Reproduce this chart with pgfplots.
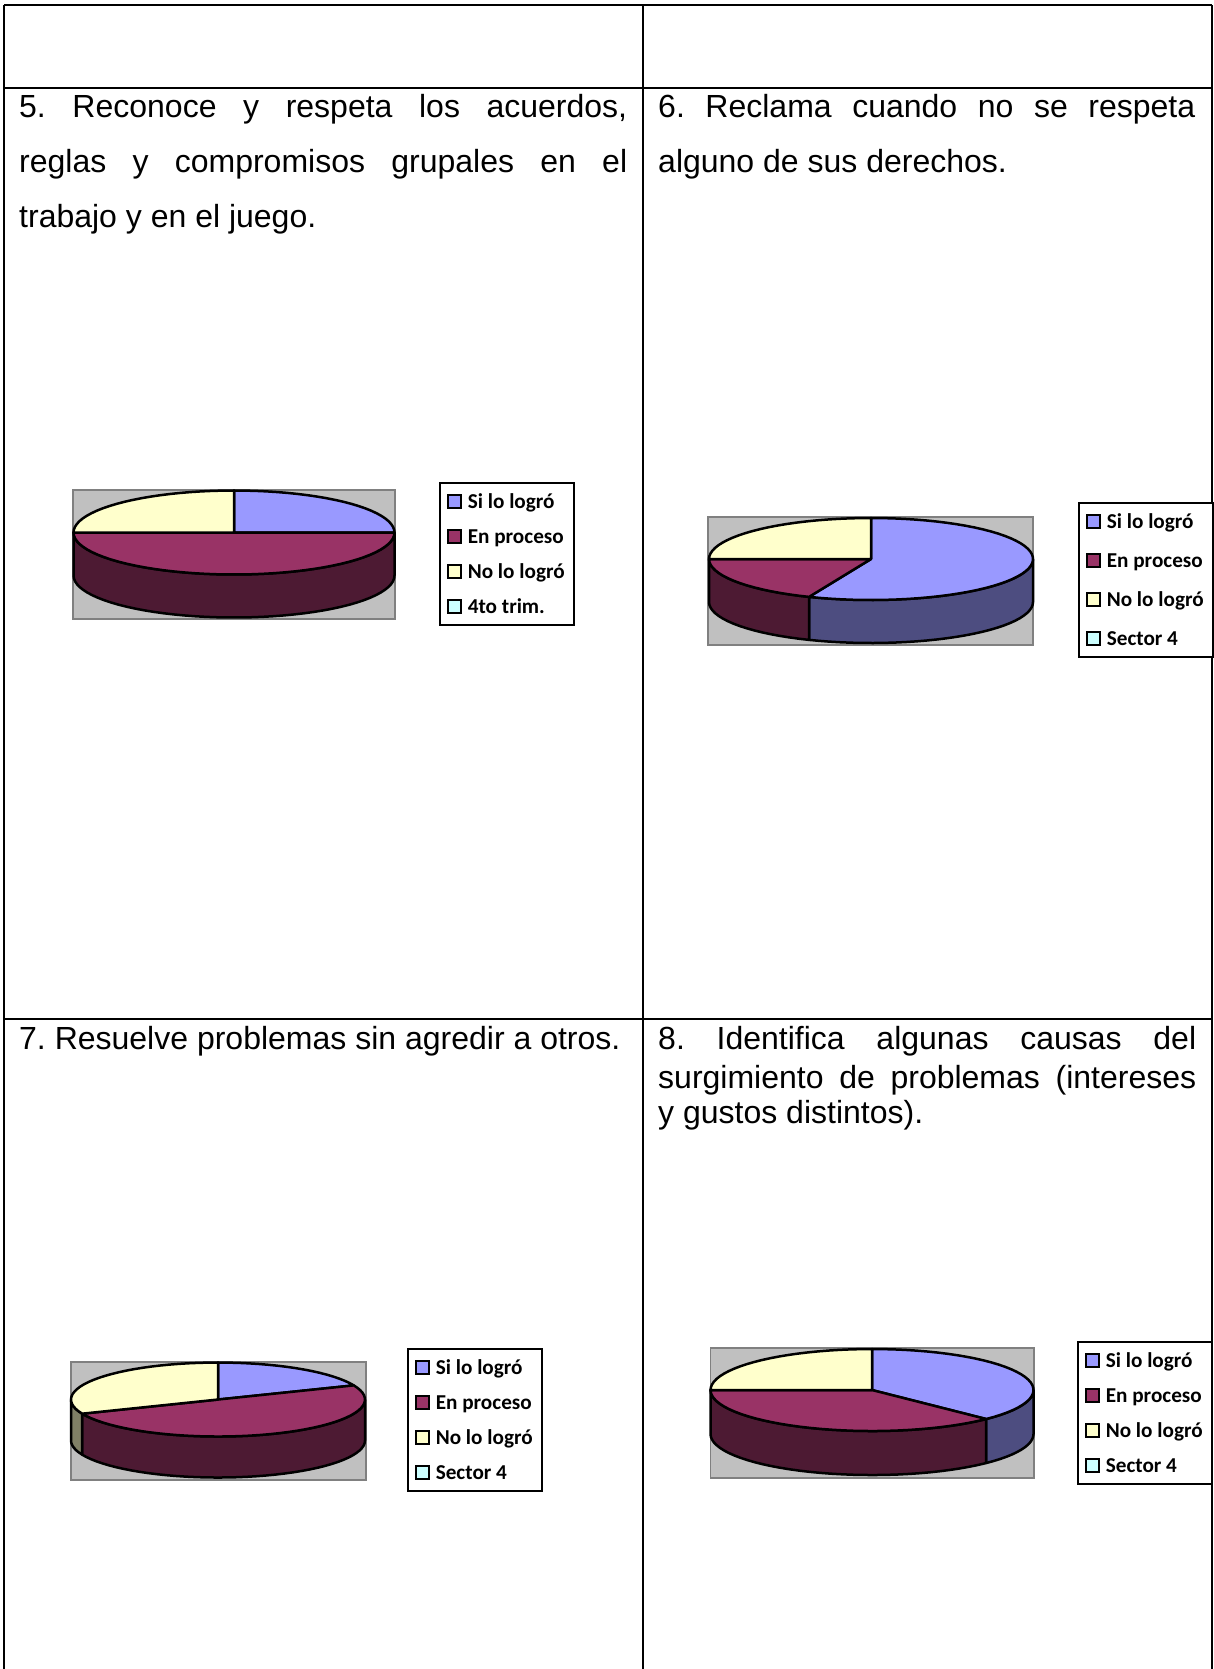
\documentclass[border=0pt]{standalone}
\usepackage{pgfplots}
\pgfplotsset{compat=1.18}
\usepackage{fontspec}
\setmainfont{Liberation Sans}
\newfontfamily\legfont{Carlito}
\definecolor{cA}{HTML}{9999FF}\definecolor{cB}{HTML}{993366}\definecolor{cC}{HTML}{FFFFCC}\definecolor{cD}{HTML}{CCFFFF}
\definecolor{wA}{HTML}{4D4D80}\definecolor{wB}{HTML}{4D1A33}\definecolor{wC}{HTML}{808066}
\definecolor{plotgray}{HTML}{C0C0C0}
\pgfplotsset{page/.style={width=1213pt,height=1669pt,scale only axis,xmin=0,xmax=1213,ymin=0,ymax=1669,y dir=reverse,axis lines=none,anchor=north west,at={(0pt,0pt)},clip=false,
  legend image code/.code={\draw[line width=2.2pt,##1] (0pt,-6.5pt) rectangle (12.5pt,6.5pt);},
  legend cell align=left},
  lstyle/.style n args={4}{legend style={at={(axis cs:#1,#2)},anchor=north west,draw=black,line width=2.2pt,fill=white,inner xsep=7pt,inner ysep=#4,
    font=\legfont\bfseries\fontsize{21.2pt}{24pt}\selectfont,
    row sep=#3,
    nodes={inner sep=0pt,text height=16pt,text depth=3pt},
    /tikz/every odd column/.append style={column sep=6pt}}}}
% ---------- outlines of pie pieces, built from the slice counts
\newcommand\arcpts[7]{% cx cy rx ry from to (descending angle) result macro
  \pgfmathtruncatemacro\steps{max(2,ceil(abs(#6-#5)/4))}%
  \xdef#7{}%
  \foreach \i in {0,...,\steps}{%
    \pgfmathsetmacro\t{#5+(#6-#5)*\i/\steps}%
    \pgfmathsetmacro\px{#1+#3*cos(\t)}%
    \pgfmathsetmacro\py{#2-#4*sin(\t)}%
    \xdef#7{#7 (\px,\py)}%
  }%
}
\newcommand\topslice[7]{% cx cy rx ry from to colour
  \arcpts{#1}{#2}{#3}{#4}{#5}{#6}{\ptsA}%
  \edef\tmp{\noexpand\addplot[forget plot,fill=#7,draw=black,line width=2.5pt,line join=round] coordinates {(#1,#2) \ptsA\space (#1,#2)} -- cycle;}\tmp
}
\newcommand\wall[8]{% cx cy rx ry depth from to colour; angles descending, within -180..0
  \arcpts{#1}{#2}{#3}{#4}{#6}{#7}{\ptsA}%
  \pgfmathsetmacro\cyb{#2+#5}%
  \arcpts{#1}{\cyb}{#3}{#4}{#7}{#6}{\ptsB}%
  \edef\tmp{\noexpand\addplot[forget plot,fill=#8,draw=black,line width=2.5pt,line join=round] coordinates {\ptsA\space\ptsB} -- cycle;}\tmp
}
\newcommand\grayrect[4]{\addplot[forget plot,fill=plotgray,draw=gray,line width=1.5pt] coordinates {(#1,#2) (#3,#2) (#3,#4) (#1,#4)} -- cycle;}
\newcommand\legendrows[1]{%
  \addlegendimage{fill=cA,draw=black}\addlegendentry{\makebox[99pt][l]{Si lo logró}}
  \addlegendimage{fill=cB,draw=black}\addlegendentry{\makebox[99pt][l]{En proceso}}
  \addlegendimage{fill=cC,draw=black}\addlegendentry{\makebox[99pt][l]{No lo logró}}
  \addlegendimage{fill=cD,draw=black}\addlegendentry{\makebox[99pt][l]{#1}}}
\newcommand\tfont{\frenchspacing\fontsize{32pt}{36pt}\selectfont}
\begin{document}
\begin{tikzpicture}[x=1pt,y=1pt]
\path[use as bounding box] (0pt,0pt) rectangle (1213pt,-1669pt);
% ---- table and texts
\begin{axis}[page]
\addplot[forget plot,black,line width=2pt] coordinates {(4,5) (1212,5)};
\addplot[forget plot,black,line width=2.5pt] coordinates {(4,88) (1212,88)};
\addplot[forget plot,black,line width=2.5pt] coordinates {(4,1019) (1212,1019)};
\addplot[forget plot,black,line width=2pt] coordinates {(4,5) (4,1669)};
\addplot[forget plot,black,line width=2pt] coordinates {(643,5) (643,1669)};
\addplot[forget plot,black,line width=2pt] coordinates {(1212,5) (1212,1669)};
\node[anchor=base west,inner sep=0pt] at (axis cs:19,117) {\tfont\makebox[608pt][s]{5. Reconoce y respeta los acuerdos,}};
\node[anchor=base west,inner sep=0pt] at (axis cs:19,172) {\tfont\makebox[608pt][s]{reglas y compromisos grupales en el}};
\node[anchor=base west,inner sep=0pt] at (axis cs:19,227) {\tfont trabajo y en el juego.};
\node[anchor=base west,inner sep=0pt] at (axis cs:658,117) {\tfont\makebox[537pt][s]{6. Reclama cuando no se respeta}};
\node[anchor=base west,inner sep=0pt] at (axis cs:658,172) {\tfont alguno de sus derechos.};
\node[anchor=base west,inner sep=0pt] at (axis cs:19,1049) {\tfont 7. Resuelve problemas sin agredir a otros.};
\node[anchor=base west,inner sep=0pt] at (axis cs:658,1049) {\tfont\makebox[538pt][s]{8. Identifica algunas causas del}};
\node[anchor=base west,inner sep=0pt] at (axis cs:658,1088) {\tfont\makebox[538pt][s]{surgimiento de problemas (intereses}};
\node[anchor=base west,inner sep=0pt] at (axis cs:658,1123) {\tfont y gustos distintos).};
\end{axis}
% ---- chart 5: 4, 8, 4 of 16
\begin{axis}[page,lstyle={439}{482}{16pt}{9pt}]
\grayrect{73}{490}{395}{619}
\wall{234}{532.5}{160.5}{42}{43}{-180}{0}{wB}
\topslice{234}{532.5}{160.5}{42}{90}{0}{cA}
\topslice{234}{532.5}{160.5}{42}{0}{-180}{cB}
\topslice{234}{532.5}{160.5}{42}{-180}{-270}{cC}
\legendrows{4to trim.}
\end{axis}
% ---- chart 6: 9, 3, 4 of 16
\begin{axis}[page,lstyle={1078}{502}{20pt}{9pt}]
\grayrect{708}{517}{1033}{645}
\wall{871}{559}{162}{41}{43}{-112.5}{0}{wA}
\wall{871}{559}{162}{41}{43}{-180}{-112.5}{wB}
\topslice{871}{559}{162}{41}{90}{-112.5}{cA}
\topslice{871}{559}{162}{41}{-112.5}{-180}{cB}
\topslice{871}{559}{162}{41}{-180}{-270}{cC}
\legendrows{Sector 4}
\end{axis}
% ---- chart 7: 3, 8, 5 of 16
\begin{axis}[page,lstyle={407}{1348}{16pt}{9pt}]
\grayrect{71}{1362}{366}{1480}
\wall{218}{1399.5}{147}{37}{41}{-157.5}{0}{wB}
\wall{218}{1399.5}{147}{37}{41}{-180}{-157.5}{wC}
\topslice{218}{1399.5}{147}{37}{90}{22.5}{cA}
\topslice{218}{1399.5}{147}{37}{22.5}{-157.5}{cB}
\topslice{218}{1399.5}{147}{37}{-157.5}{-270}{cC}
\legendrows{Sector 4}
\end{axis}
% ---- chart 8: 6, 6, 4 of 16
\begin{axis}[page,lstyle={1077}{1341}{16pt}{9pt}]
\grayrect{710.5}{1348}{1034}{1478}
\wall{872}{1390}{161.5}{41}{44}{-45}{0}{wA}
\wall{872}{1390}{161.5}{41}{44}{-180}{-45}{wB}
\topslice{872}{1390}{161.5}{41}{90}{-45}{cA}
\topslice{872}{1390}{161.5}{41}{-45}{-180}{cB}
\topslice{872}{1390}{161.5}{41}{-180}{-270}{cC}
\legendrows{Sector 4}
\end{axis}
\end{tikzpicture}
\end{document}
